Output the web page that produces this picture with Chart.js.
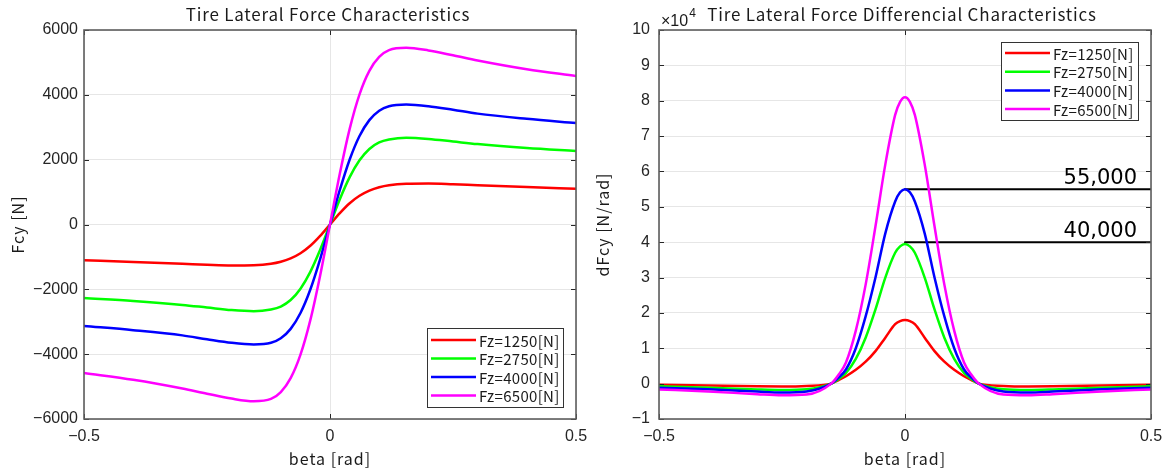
<!DOCTYPE html>
<html><head><meta charset="utf-8">
<script src="https://cdn.jsdelivr.net/npm/chart.js@4.4.0/dist/chart.umd.min.js"></script>
<style>
html,body{margin:0;padding:0;background:#fff;width:1168px;height:473px;overflow:hidden}
canvas{position:absolute;top:0}
#c1{left:0}
#c2{left:584px}
</style></head><body>
<canvas id="c1" width="640" height="473"></canvas>
<canvas id="c2" width="584" height="473"></canvas>
<script>
// ---------- data ----------
const seriesLabels = ['Fz=1250[N]', 'Fz=2750[N]', 'Fz=4000[N]', 'Fz=6500[N]'];
const seriesColors = ['#ff0000', '#00ff00', '#0000ff', '#ff00ff'];

const xTicks = [-0.5, 0, 0.5];

// left chart: lateral force Fcy [N] vs beta [rad]
const betaF = [-0.5,-0.4,-0.3,-0.25,-0.2,-0.155,-0.12,-0.1,-0.08,-0.06,-0.04,-0.02,0,0.02,0.04,0.06,0.08,0.1,0.12,0.155,0.2,0.25,0.3,0.4,0.5];
const fcy1250 = [-1105,-1155,-1210,-1240,-1262,-1255,-1212,-1150,-1045,-885,-655,-350,0,350,655,885,1045,1150,1212,1255,1262,1240,1210,1155,1105];
const fcy2750 = [-2270,-2360,-2480,-2560,-2640,-2675,-2620,-2530,-2330,-1980,-1460,-780,0,780,1460,1980,2330,2530,2620,2675,2640,2560,2480,2360,2270];
const fcy4000 = [-3130,-3260,-3420,-3540,-3650,-3700,-3650,-3510,-3220,-2730,-2005,-1065,0,1065,2005,2730,3220,3510,3650,3700,3650,3540,3420,3260,3130];
const fcy6500 = [-4580,-4790,-5060,-5220,-5370,-5450,-5380,-5170,-4740,-4015,-2950,-1570,0,1570,2950,4015,4740,5170,5380,5450,5370,5220,5060,4790,4580];
const fcyTicks = [-6000, -4000, -2000, 0, 2000, 4000, 6000];

// right chart: dFcy/dbeta [N/rad] vs beta [rad]
const betaD = [-0.5,-0.4,-0.3,-0.25,-0.2,-0.15,-0.135,-0.12,-0.1,-0.08,-0.06,-0.04,-0.02,-0.01,0,0.01,0.02,0.04,0.06,0.08,0.1,0.12,0.135,0.15,0.2,0.25,0.3,0.4,0.5];
const dfcy1250 = [-300,-550,-750,-800,-650,0,1000,2100,3900,6200,9200,13000,16800,17700,18000,17700,16800,13000,9200,6200,3900,2100,1000,0,-650,-800,-750,-550,-300];
const dfcy2750 = [-750,-1150,-1650,-1800,-1600,0,1300,3000,7000,13000,21000,30000,37000,38800,39500,38800,37000,30000,21000,13000,7000,3000,1300,0,-1600,-1800,-1650,-1150,-750];
const dfcy4000 = [-1150,-1600,-2250,-2500,-2200,0,1700,4000,10000,19000,30000,42500,51500,54100,55000,54100,51500,42500,30000,19000,10000,4000,1700,0,-2200,-2500,-2250,-1600,-1150];
const dfcy6500 = [-1650,-2200,-3000,-3300,-3100,0,2500,6000,15000,28000,44500,62000,76000,79700,81000,79700,76000,62000,44500,28000,15000,6000,2500,0,-3100,-3300,-3000,-2200,-1650];
const dfcyTicks = [-10000,0,10000,20000,30000,40000,50000,60000,70000,80000,90000,100000];

// marked levels on the right chart
const markLevels = [55000, 40000];
const markBeta = [0, 0.5];

// ---------- helpers ----------
const CJK = '"Noto Sans CJK JP", "Noto Sans", sans-serif';
const TICKF = '"Liberation Sans", Arial, sans-serif';
const minus = s => String(s).replace('-', '\u2212');

function pts(xs, ys) { return xs.map((x, i) => ({x: x, y: ys[i]})); }

function curveSets(xs, list) {
  return list.map((ys, i) => ({
    label: seriesLabels[i], data: pts(xs, ys), borderColor: seriesColors[i],
    backgroundColor: seriesColors[i], borderWidth: 2.5, pointRadius: 0,
    cubicInterpolationMode: 'monotone', fill: false, order: 4 - i, isSeries: true
  }));
}

const framePlugin = {
  id: 'frame',
  afterDraw(chart, args, o) {
    const {ctx, chartArea: a, scales} = chart;
    ctx.save();
    ctx.strokeStyle = '#262626'; ctx.lineWidth = 1;
    scales.y.ticks.forEach(t => {
      const p = Math.round(scales.y.getPixelForValue(t.value)) + 0.5;
      ctx.beginPath(); ctx.moveTo(a.left, p); ctx.lineTo(a.left + 5, p);
      ctx.moveTo(a.right - 5, p); ctx.lineTo(a.right, p); ctx.stroke();
    });
    scales.x.ticks.forEach(t => {
      const p = Math.round(scales.x.getPixelForValue(t.value)) + 0.5;
      ctx.beginPath(); ctx.moveTo(p, a.bottom); ctx.lineTo(p, a.bottom - 5);
      ctx.moveTo(p, a.top); ctx.lineTo(p, a.top + 5); ctx.stroke();
    });
    ctx.strokeStyle = '#5e5e5e'; ctx.lineWidth = 1.6;
    ctx.strokeRect(a.left, a.top, a.right - a.left, a.bottom - a.top);

    // texts
    ctx.fillStyle = '#1a1a1a';
    ctx.letterSpacing = '0.8px';
    ctx.font = '17px ' + CJK; ctx.textAlign = 'center'; ctx.textBaseline = 'alphabetic';
    ctx.fillText(o.title, o.titleX, 21);
    ctx.letterSpacing = '1px';
    ctx.font = '16px ' + CJK;
    ctx.fillText('beta [rad]', (a.left + a.right) / 2, 465);
    ctx.save();
    ctx.translate(o.yTitleX, (a.top + a.bottom) / 2); ctx.rotate(-Math.PI / 2);
    ctx.textBaseline = 'middle'; ctx.fillText(o.yTitle, 0, 0);
    ctx.restore();
    ctx.letterSpacing = '0px';

    if (o.exp) {
      ctx.textAlign = 'left';
      ctx.font = '16px ' + TICKF; ctx.fillText('\u00d710', a.left + 2, 26);
      const w = ctx.measureText('\u00d710').width;
      ctx.font = '12px ' + TICKF; ctx.fillText('4', a.left + 3 + w, 17);
    }
    if (o.marks) {
      ctx.textAlign = 'right'; ctx.fillStyle = '#000';
      ctx.font = '21px "DejaVu Sans", sans-serif';
      markLevels.forEach(v => {
        const py = scales.y.getPixelForValue(v);
        ctx.fillText(v.toLocaleString('en-US'), a.right - 14, py - 5);
      });
    }

    // legend
    const L = o.legend;
    ctx.fillStyle = '#fff'; ctx.fillRect(L.x, L.y, L.w, L.h);
    ctx.strokeStyle = '#333'; ctx.lineWidth = 1;
    ctx.strokeRect(L.x + 0.5, L.y + 0.5, L.w, L.h);
    ctx.font = '15px ' + CJK; ctx.textAlign = 'left'; ctx.textBaseline = 'middle';
    ctx.letterSpacing = '0.3px';
    chart.data.datasets.filter(d => d.isSeries).forEach((d, i) => {
      const y = L.y + L.row0 + i * L.rowH;
      ctx.strokeStyle = d.borderColor; ctx.lineWidth = 2.5;
      ctx.beginPath(); ctx.moveTo(L.x + 4, y); ctx.lineTo(L.x + 49, y); ctx.stroke();
      ctx.fillStyle = '#1a1a1a'; ctx.fillText(d.label, L.x + 52, y + 1);
    });
    ctx.restore();
  }
};

function makeChart(id, datasets, yMin, yMax, yStep, yFmt, yWidth, pad, yPad, frameOpts) {
  return new Chart(document.getElementById(id), {
    type: 'line',
    data: {datasets: datasets},
    options: {
      responsive: false, animation: false, devicePixelRatio: 1,
      layout: {padding: pad},
      plugins: {legend: {display: false}, tooltip: {enabled: false}, title: {display: false}, frame: frameOpts},
      elements: {line: {borderCapStyle: 'round', borderJoinStyle: 'round'}},
      scales: {
        x: {
          type: 'linear', min: xTicks[0], max: xTicks[xTicks.length - 1],
          afterBuildTicks: s => { s.ticks = xTicks.map(v => ({value: v})); },
          ticks: {callback: v => minus(v), font: {family: TICKF, size: 16}, color: '#262626', padding: 8, maxRotation: 0, autoSkip: false},
          grid: {color: '#e6e6e6', drawTicks: false, lineWidth: 1},
          border: {display: false},
          afterFit: s => { s.height = 54; s.paddingLeft = 0; s.paddingRight = 0; }
        },
        y: {
          type: 'linear', min: yMin, max: yMax,
          afterBuildTicks: s => { s.ticks = yStep.map(v => ({value: v})); },
          ticks: {callback: yFmt, font: {family: TICKF, size: 16}, color: '#262626', padding: yPad, autoSkip: false},
          grid: {color: '#e6e6e6', drawTicks: false, lineWidth: 1},
          border: {display: false},
          afterFit: s => { s.width = yWidth; s.paddingTop = 0; s.paddingBottom = 0; }
        }
      }
    },
    plugins: [framePlugin]
  });
}

makeChart('c1', curveSets(betaF, [fcy1250, fcy2750, fcy4000, fcy6500]),
  fcyTicks[0], fcyTicks[fcyTicks.length - 1], fcyTicks, v => minus(v), 84,
  {left: 0, right: 64, top: 30, bottom: 0}, 6,
  {title: 'Tire Lateral Force Characteristics', titleX: 328, yTitle: 'Fcy [N]', yTitleX: 18,
   legend: {x: 427, y: 328, w: 136, h: 79, row0: 12, rowH: 18.5}});

const markSets = markLevels.map(v => ({
  data: markBeta.map(b => ({x: b, y: v})), borderColor: '#000', borderWidth: 2,
  pointRadius: 0, order: 10, isSeries: false
}));

makeChart('c2', curveSets(betaD, [dfcy1250, dfcy2750, dfcy4000, dfcy6500]).concat(markSets),
  dfcyTicks[0], dfcyTicks[dfcyTicks.length - 1], dfcyTicks, v => minus(v / 10000), 75,
  {left: 0, right: 17, top: 30, bottom: 0}, 9,
  {title: 'Tire Lateral Force Differencial Characteristics', titleX: 318, yTitle: 'dFcy [N/rad]', yTitleX: 19,
   exp: true, marks: true,
   legend: {x: 1001 - 584, y: 42, w: 137, h: 78, row0: 11, rowH: 18.7}});
</script>
</body></html>
